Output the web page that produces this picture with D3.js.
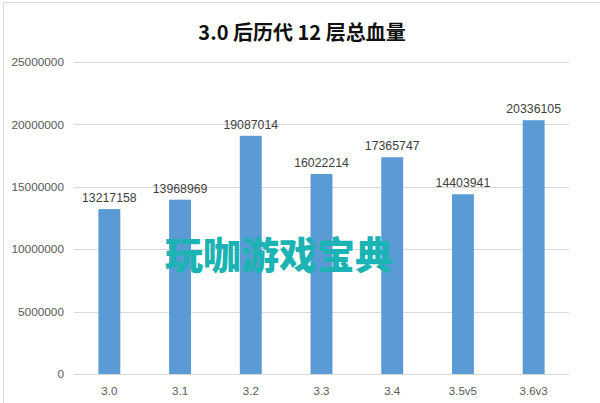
<!DOCTYPE html>
<html><head><meta charset="utf-8">
<script src="https://cdn.jsdelivr.net/npm/d3@7"></script>
<style>body{margin:0;background:#fff}svg{display:block}</style>
</head><body>
<script>
const categories = ["3.0","3.1","3.2","3.3","3.4","3.5v5","3.6v3"];
const values = [13217158,13968969,19087014,16022214,17365747,14403941,20336105];
const yTicks = [0,5000000,10000000,15000000,20000000,25000000];
const title = "3.0 后历代 12 层总血量";
const watermark = "玩咖游戏宝典";

const W=600,H=403;
const svg=d3.select("body").append("svg").attr("width",W).attr("height",H);
svg.append("rect").attr("width",W).attr("height",H).attr("fill","#fff");
// faint frame
svg.append("line").attr("x1",3.5).attr("x2",3.5).attr("y1",2).attr("y2",H).attr("stroke","#d9d9d9");
svg.append("line").attr("x1",3).attr("x2",W).attr("y1",2.5).attr("y2",2.5).attr("stroke","#d9d9d9");

const x=d3.scaleBand().domain(categories).range([74,569]).paddingInner(0.69).paddingOuter(0.345);
const y=d3.scaleLinear().domain([0,25000000]).range([374,62]);
const font="'Liberation Sans', Arial, sans-serif";

const g=svg.append("g");
g.selectAll(".grid").data(yTicks).enter().append("line")
 .attr("x1",74).attr("x2",569).attr("y1",d=>Math.round(y(d))+0.5).attr("y2",d=>Math.round(y(d))+0.5)
 .attr("stroke","#d9d9d9").attr("stroke-width",1);

const ya=svg.append("g").attr("transform","translate(64,0)")
 .call(d3.axisLeft(y).tickValues(yTicks).tickSize(0).tickPadding(0).tickFormat(d3.format("d")));
ya.select(".domain").remove();
ya.selectAll("text").attr("font-family",font).attr("font-size",11.8).attr("fill","#595959");

g.selectAll(".bar").data(values).enter().append("rect")
 .attr("x",(d,i)=>x(categories[i])).attr("width",x.bandwidth())
 .attr("y",d=>y(d)).attr("height",d=>y(0)-y(d)).attr("fill","#5b9bd5");

g.selectAll(".lbl").data(values).enter().append("text")
 .attr("x",(d,i)=>x(categories[i])+x.bandwidth()/2).attr("y",d=>y(d)-7)
 .attr("text-anchor","middle").attr("font-family",font).attr("font-size",12.3).attr("fill","#404040")
 .text(d=>d);

const xa=svg.append("g").attr("transform","translate(0,374)")
 .call(d3.axisBottom(x).tickSize(0).tickPadding(13));
xa.select(".domain").remove();
xa.selectAll("text").attr("font-family",font).attr("font-size",11.5).attr("fill","#595959");

svg.append("text").attr("x",302).attr("y",40).attr("text-anchor","middle")
 .attr("font-family","'Noto Sans CJK SC', sans-serif").attr("font-weight","bold").attr("font-size",20).attr("fill","#111")
 .text(title);

svg.append("text").attr("x",279).attr("y",269).attr("text-anchor","middle")
 .attr("font-family","'Noto Sans CJK SC', sans-serif").attr("font-weight","900").attr("font-size",38).attr("fill","#1bb3b3")
 .text(watermark);
</script>
</body></html>
